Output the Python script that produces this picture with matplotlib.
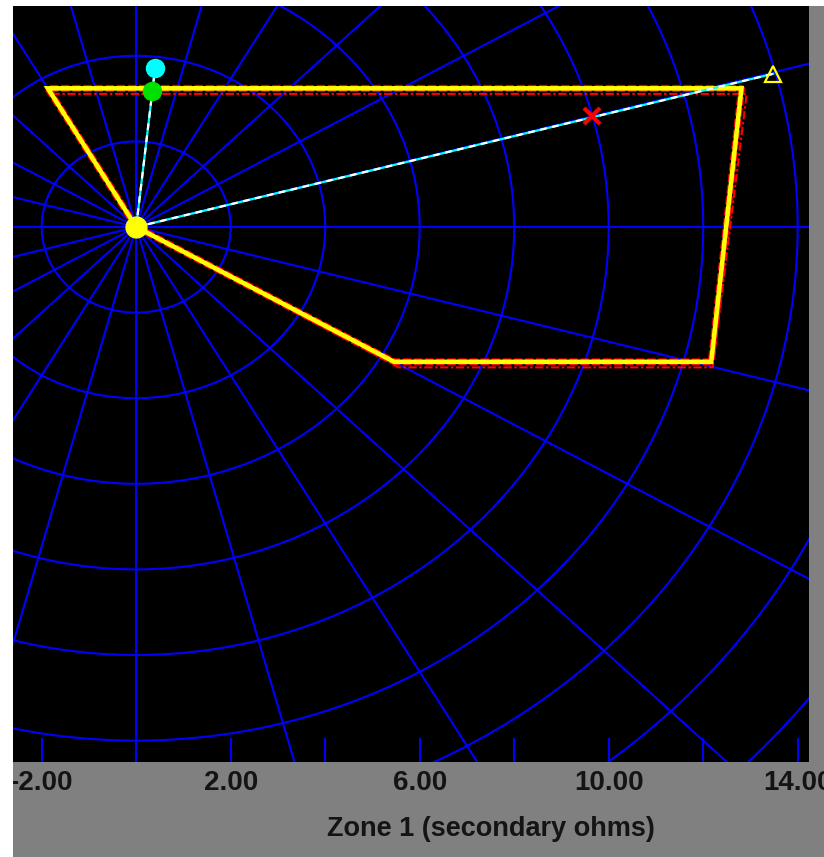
import numpy as np
import matplotlib.pyplot as plt
from matplotlib.patches import Rectangle

plt.rcParams['font.family'] = ['Liberation Sans', 'DejaVu Sans']
plt.rcParams['axes.unicode_minus'] = False

# zone 1 characteristic, R / X in secondary ohms
zone_r = [0.0, -1.87, 12.81, 12.17, 5.46, 0.0]
zone_x = [0.0, 3.24, 3.24, -3.15, -3.15, 0.0]
# reach setting outline (dash-dot)
reach_r = [0.0, -1.80, 12.92, 12.20, 5.55, 0.0]
reach_x = [0.0, 3.11, 3.11, -3.28, -3.28, 0.0]

# measured impedance trajectories
traj_r = [0.0, 13.48]
traj_x = [0.0, 3.58]
fault_r, fault_x = 9.64, 2.60
green_r, green_x = 0.34, 3.18
cyan_r, cyan_x = 0.40, 3.71

# polar grid
grid_radii = [2, 4, 6, 8, 10, 12, 14, 16, 18, 20]
spoke_angles = list(range(0, 360, 15))

tick_pos = [-2, 0, 2, 4, 6, 8, 10, 12, 14]
tick_labels = ['-2.00', '', '2.00', '', '6.00', '', '10.00', '', '14.00']

W, H = 824, 857
fig = plt.figure(figsize=(W / 100, H / 100), dpi=100, facecolor='#808080')
ax = fig.add_axes([13 / W, (H - 762) / H, 796 / W, 756 / H])
ax.set_facecolor('black')
for s in ax.spines.values():
    s.set_visible(False)

blue = '#0000ff'
t = np.linspace(0, 2 * np.pi, 721)
for r in grid_radii:
    ax.plot(r * np.cos(t), r * np.sin(t), color=blue, lw=1.5, zorder=1)
for a in spoke_angles:
    th = np.deg2rad(a)
    ax.plot([0, 30 * np.cos(th)], [0, 30 * np.sin(th)], color=blue, lw=1.5, zorder=1)

# reach outline
ax.plot(reach_r, reach_x, color='red', lw=1.5, dashes=(4, 1.2, 1.2, 1.2), zorder=2)
# zone polygon: red border under yellow
ax.plot(zone_r, zone_x, color='red', lw=5.0, dashes=(1.2, 0.4), solid_joinstyle='miter', zorder=3)
ax.plot(zone_r, zone_x, color='yellow', lw=3.3, solid_joinstyle='miter', zorder=4)

# trajectories: cyan with white dashes
for rr, xx in [(traj_r, traj_x), ([0.0, cyan_r], [0.0, cyan_x])]:
    ax.plot(rr, xx, color='cyan', lw=1.6, zorder=5)
    ax.plot(rr, xx, color='white', lw=1.6, dashes=(3, 2.5), zorder=5)

ax.plot([traj_r[1]], [traj_x[1]], marker='^', ms=11, mfc='none', mec='yellow', mew=1.6, zorder=6)
ax.plot([fault_r], [fault_x], marker='x', ms=11, mec='red', mew=3, zorder=6)
ax.plot([cyan_r], [cyan_x], marker='o', ms=13, color='cyan', zorder=6)
ax.plot([green_r], [green_x], marker='o', ms=13, color='#00e000', zorder=6)
ax.plot([0], [0], marker='o', ms=15, color='yellow', zorder=7)

ax.set_xlim(-2.607, 14.239)
ax.set_ylim(-12.5, 5.164)
ax.set_xticks(tick_pos)
ax.set_xticklabels(tick_labels)
ax.set_yticks([])
ax.tick_params(axis='x', direction='in', length=17, width=1.5, color=blue,
               labelsize=20, pad=6, labelcolor='#141414')
for lab in ax.get_xticklabels():
    lab.set_fontweight('bold')

fig.text(491 / W, 1 - 829 / H, 'Zone 1 (secondary ohms)', ha='center', va='center',
         fontsize=19.5, fontweight='bold', color='#141414')

# white border strips at left and top
fig.add_artist(Rectangle((0, 0), 13 / W, 1, transform=fig.transFigure,
                         facecolor='white', edgecolor='none', zorder=10))
fig.add_artist(Rectangle((0, 1 - 6 / H), 1, 6 / H, transform=fig.transFigure,
                         facecolor='white', edgecolor='none', zorder=10))

fig.savefig('out.png', dpi=100, facecolor=fig.get_facecolor())
